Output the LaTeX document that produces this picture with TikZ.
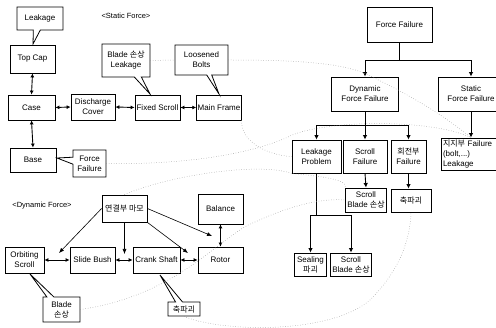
\documentclass[tikz,border=0pt]{standalone}
\usepackage{fontspec}
\setmainfont{Liberation Sans}
\newfontfamily\kr{Noto Sans CJK KR}
\usetikzlibrary{shapes.callouts,arrows.meta,calc}
\begin{document}
\begin{tikzpicture}[x=1pt,y=-1pt,
  box/.style={draw,line width=0.8pt,fill=white,inner sep=1pt,align=center,font=\fontsize{8}{10}\selectfont},
  call/.style={box,rectangle callout,callout pointer width=7pt},
  dbl/.style={{Latex[length=4pt,width=4pt]}-{Latex[length=4pt,width=4pt]},line width=0.9pt},
  tree/.style={line width=0.9pt},
  arr/.style={-{Latex[length=4.5pt,width=4.5pt]},line width=0.9pt},
  tarr/.style={-{Latex[length=5pt,width=4pt]},line width=0.6pt},
  dots/.style={black!45,dotted,line width=0.5pt},
  lbl/.style={font=\fontsize{7.5}{10}\selectfont,inner sep=0pt}]
\useasboundingbox (0,0) rectangle (496,328);

% ---------- static force ----------
\node[lbl] (slabel) at (126,16) {<Static Force>};
\node[call,minimum width=46pt,minimum height=23pt,callout absolute pointer={(33,44)}] (leak) at (40,18.5) {Leakage};
\node[box,minimum width=45pt,minimum height=28pt] (topcap) at (32.5,59) {Top Cap};
\node[box,minimum width=47pt,minimum height=25pt] (case) at (31.5,107.5) {Case};
\node[box,minimum width=44pt,minimum height=26pt] (disch) at (93,107) {Discharge\\Cover};
\node[box,minimum width=45pt,minimum height=25pt] (fixed) at (157.5,107.5) {Fixed Scroll};
\node[box,minimum width=44pt,minimum height=25pt] (mainf) at (219,107.5) {Main Frame};
\node[call,minimum width=48pt,minimum height=33pt,callout absolute pointer={(150,94)}] (bladeleak) at (126,60.5) {Blade {\kr 손상}\\Leakage};
\node[call,minimum width=53pt,minimum height=30pt,callout pointer width=5pt,callout absolute pointer={(219,94)}] (bolts) at (201.5,60) {Loosened\\Bolts};
\node[box,minimum width=46pt,minimum height=24pt] (base) at (33,160) {Base};
\node[call,minimum width=33pt,minimum height=27pt,callout absolute pointer={(57,158)}] (ffcall) at (89.5,163.5) {Force\\Failure};

\draw[dbl] (topcap.south) -- (case.north);
\draw[dbl] (case.south) -- (base.north);
\draw[dbl] (case.east) -- (disch.west);
\draw[dbl] (disch.east) -- (fixed.west);
\draw[dbl] (fixed.east) -- (mainf.west);

% ---------- failure tree ----------
\node[box,minimum width=65pt,minimum height=35pt] (FF) at (399.5,24.5) {Force Failure};
\node[box,minimum width=67pt,minimum height=34pt] (dyn) at (365,94) {Dynamic\\Force Failure};
\node[box,minimum width=66pt,minimum height=34pt] (stat) at (471,94) {Static\\Force Failure};
\node[box,minimum width=60pt,minimum height=32pt,align=left,text width=56pt] (jiji) at (471,154) {{\kr 지지부} Failure\\(bolt,...)\\Leakage};
\node[box,minimum width=49pt,minimum height=33pt] (leakp) at (316.5,156.5) {Leakage\\Problem};
\node[box,minimum width=44pt,minimum height=33pt] (scrollf) at (365,156.5) {Scroll\\Failure};
\node[box,minimum width=35pt,minimum height=33pt] (hoe) at (408.5,156.5) {{\kr 회전부}\\Failure};
\node[box,minimum width=41pt,minimum height=24pt] (sbd1) at (366,200) {Scroll\\Blade {\kr 손상}};
\node[box,minimum width=40pt,minimum height=23pt] (chuk1) at (411,200.5) {\kr 축파괴};
\node[box,minimum width=32pt,minimum height=23pt] (seal) at (310.5,264.5) {Sealing\\{\kr 파괴}};
\node[box,minimum width=41pt,minimum height=23pt] (sbd2) at (351,264.5) {Scroll\\Blade {\kr 손상}};

\coordinate (j1) at (399.5,60);
\coordinate (j2) at (365,125);
\coordinate (j3) at (316.5,215);
\draw[tree] (FF.south) -- (j1);
\draw[arr] (j1) -| (dyn.north);
\draw[arr] (j1) -| (stat.north);
\draw[arr] (stat.south) -- (jiji.north);
\draw[tree] (dyn.south) -- (j2);
\draw[arr] (j2) -| (leakp.north);
\draw[arr] (j2) -- (scrollf.north);
\draw[arr] (j2) -| (hoe.north);
\draw[arr] (scrollf.south) -- (sbd1.north);
\draw[arr] (hoe.south) -- (hoe.south |- chuk1.north);
\draw[tree] (leakp.south) -- (j3);
\draw[arr] (j3) -| (seal.north);
\draw[arr] (j3) -| (sbd2.north);

% ---------- dynamic force ----------
\node[lbl] (dlabel) at (42,206) {<Dynamic Force>};
\node[box,minimum width=45pt,minimum height=27pt] (yeon) at (124.5,208.5) {\kr 연결부 마모};
\node[box,minimum width=45pt,minimum height=30pt] (balance) at (220.5,209) {Balance};
\node[box,minimum width=39pt,minimum height=26pt] (orb) at (24.5,260) {Orbiting\\Scroll};
\node[box,minimum width=45pt,minimum height=26pt] (slide) at (92.5,260) {Slide Bush};
\node[box,minimum width=47pt,minimum height=26pt] (crank) at (156.5,260) {Crank Shaft};
\node[box,minimum width=45pt,minimum height=26pt] (rotor) at (220.5,260) {Rotor};
\node[call,minimum width=37pt,minimum height=25pt,callout absolute pointer={(30,274)}] (bladeb) at (61.5,309.5) {Blade\\{\kr 손상}};
\node[call,minimum width=32pt,minimum height=14pt,callout absolute pointer={(160,275)}] (chuk2) at (184,309) {\kr 축파괴};

\draw[dbl] (orb.east) -- (slide.west);
\draw[dbl] (slide.east) -- (crank.west);
\draw[dbl] (crank.east) -- (rotor.west);
\draw[dbl] (balance.south) -- (rotor.north);

\coordinate (p1) at (59,253);
\coordinate (p2) at (124.5,254);
\coordinate (p3) at (188,253);
\coordinate (p4) at (212,236);
\draw[tarr] (yeon.west) -- (p1);
\draw[tarr] (yeon.south) -- (p2);
\draw[tarr] (yeon.south east) -- (p3);
\draw[tarr] (yeon.east) -- (p4);

% ---------- dotted relations ----------
\draw[dots] (bladeleak.east) -- (bolts.west);
\draw[dots] (bolts.east) .. controls (290,60) and (345,62) .. (370,76) .. controls (400,90) and (440,112) .. (jiji.north);
\draw[dots] (mainf.south east) .. controls (240,140) and (265,155) .. (leakp.west);
\draw[dots] (ffcall.east) .. controls (200,165) and (260,150) .. (288,137) .. controls (320,120) and (430,118) .. (jiji.north);
\draw[dots] (yeon.north) .. controls (170,175) and (260,162) .. (leakp.south west) .. controls (320,176) and (350,180) .. (sbd1.north west);
\draw[dots] (bladeb.east) .. controls (180,295) and (220,235) .. (255,222) .. controls (290,206) and (320,198) .. (sbd1.west);
\draw[dots] (chuk2.south) .. controls (220,332) and (330,335) .. (370,300) .. controls (400,270) and (410,240) .. (chuk1.south);
\end{tikzpicture}
\end{document}
